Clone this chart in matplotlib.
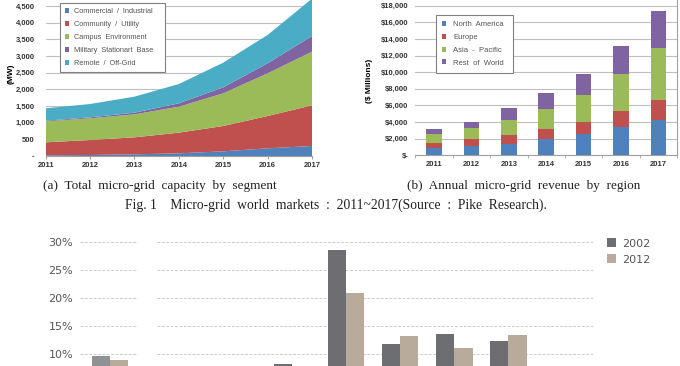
# Micro-grid markets figure (two top panels + cropped bottom bar chart)

import numpy as np
import matplotlib.pyplot as plt
from matplotlib.ticker import FuncFormatter

# ---- data: (a) capacity by segment, MW ----
years = [2011, 2012, 2013, 2014, 2015, 2016, 2017]
seg_labels = ["Commercial  /  Industrial", "Community  /  Utility", "Campus  Environment",
              "Military  Stationart  Base", "Remote  /  Off-Grid"]
commercial = [20, 30, 50, 80, 140, 230, 300]
community = [390, 450, 510, 620, 760, 970, 1220]
campus = [630, 650, 690, 780, 980, 1280, 1610]
military = [20, 30, 50, 100, 180, 300, 470]
remote = [370, 400, 480, 580, 740, 850, 1120]

# ---- data: (b) revenue by region, $ millions ----
region_labels = ["North  America", "Europe", "Asia  -  Pacific", "Rest  of  World"]
north_america = [880, 1120, 1400, 1920, 2600, 3450, 4250]
europe = [640, 800, 1050, 1290, 1450, 1840, 2410]
asia_pacific = [1050, 1370, 1800, 2360, 3210, 4530, 6290]
rest_of_world = [600, 720, 1480, 1890, 2560, 3290, 4410]

# ---- data: bottom chart, % (cropped in the picture) ----
share_2002_left = [9.6]
share_2012_left = [8.8]
share_2002 = [5.0, 6.0, 8.1, 28.5, 11.7, 13.6, 12.3]
share_2012 = [4.5, 5.5, 7.0, 20.9, 13.2, 11.0, 13.3]

seg_colors = ["#4f81bd", "#c0504d", "#9bbb59", "#8064a2", "#4bacc6"]
reg_colors = ["#4f81bd", "#c0504d", "#9bbb59", "#8064a2"]
c2002 = "#6d6e71"
c2012 = "#b9ab9b"

W, H = 680, 366
fig = plt.figure(figsize=(W / 100, H / 100), dpi=100)


def px_axes(x0, y_top, x1, y_bot):
    return fig.add_axes([x0 / W, 1 - y_bot / H, (x1 - x0) / W, (y_bot - y_top) / H])


tick_font = dict(family="Liberation Sans", weight="bold", size=5.5)

# ---------------- (a) stacked area ----------------
ax1 = px_axes(45.7, 0, 312, 156)
ax1.stackplot(years, commercial, community, campus, military, remote,
              colors=seg_colors, labels=seg_labels, linewidth=0)
ax1.set_xlim(2011, 2017)
ax1.set_ylim(0, 4680)
ax1.set_yticks(np.arange(0, 5000, 500))
ax1.set_xticks(years)
ax1.yaxis.set_major_formatter(FuncFormatter(lambda v, p: "-" if v == 0 else f"{v:,.0f}"))
ax1.yaxis.grid(True, color="#bfbfbf", linewidth=0.8)
ax1.set_axisbelow(True)
for s in ["top", "right", "left"]:
    ax1.spines[s].set_visible(False)
ax1.spines["bottom"].set_color("#a0a0a0")
ax1.spines["bottom"].set_linewidth(0.8)
ax1.tick_params(axis="y", length=0, pad=8)
ax1.tick_params(axis="x", length=2.5, color="#a0a0a0", pad=2)
for lab in ax1.get_xticklabels() + ax1.get_yticklabels():
    lab.set(**tick_font, color="#333333")
ax1.set_ylabel("(MW)", fontsize=6, fontweight="bold", family="Liberation Sans")
ax1.yaxis.set_label_coords(-0.115, 0.53)
leg1 = ax1.legend(loc="upper left", bbox_to_anchor=(0.0387, 0, 0.424, 1.003), mode="expand",
                  prop=dict(family="Liberation Sans", size=5.3), labelcolor="#555555",
                  frameon=True, fancybox=False, edgecolor="#808080", framealpha=1,
                  handlelength=0.6, handleheight=0.6, handletextpad=0.7,
                  labelspacing=0.8, borderpad=0.7)
leg1.get_frame().set_linewidth(0.8)

# ---------------- (b) stacked bars ----------------
ax2 = px_axes(415.3, 0, 677.1, 155.3)
x = np.arange(len(years))
bottom = np.zeros(len(years))
for vals, col, lab in zip([north_america, europe, asia_pacific, rest_of_world], reg_colors, region_labels):
    ax2.bar(x, vals, 0.42, bottom=bottom, color=col, label=lab, zorder=3)
    bottom += np.array(vals)
ax2.set_xlim(-0.5, len(years) - 0.5)
ax2.set_ylim(0, 18686)
ax2.set_yticks(np.arange(0, 19000, 2000))
ax2.set_xticks(x)
ax2.set_xticklabels(years)
ax2.set_xticks(np.arange(-0.5, len(years)), minor=True)
ax2.yaxis.set_major_formatter(FuncFormatter(lambda v, p: "$-" if v == 0 else f"${v:,.0f}"))
ax2.yaxis.grid(True, color="#bfbfbf", linewidth=0.8)
ax2.set_axisbelow(True)
for s in ["top", "left"]:
    ax2.spines[s].set_visible(False)
for s in ["bottom", "right"]:
    ax2.spines[s].set_color("#a0a0a0")
    ax2.spines[s].set_linewidth(0.8)
ax2.tick_params(axis="y", length=0, pad=5)
ax2.tick_params(axis="x", which="major", length=0, pad=4)
ax2.tick_params(axis="x", which="minor", length=2.5, color="#a0a0a0")
for lab in ax2.get_xticklabels() + ax2.get_yticklabels():
    lab.set(**tick_font, color="#333333")
ax2.set_ylabel("($ Millions)", fontsize=6, fontweight="bold", family="Liberation Sans")
ax2.yaxis.set_label_coords(-0.16, 0.48)
leg2 = ax2.legend(loc="upper left", bbox_to_anchor=(0.0626, 0, 0.326, 0.929), mode="expand",
                  prop=dict(family="Liberation Sans", size=5.5), labelcolor="#555555",
                  frameon=True, fancybox=False, edgecolor="#808080", framealpha=1,
                  handlelength=0.6, handleheight=0.6, handletextpad=0.9,
                  labelspacing=0.75, borderpad=0.8)
leg2.get_frame().set_linewidth(0.8)

# ---------------- captions ----------------
cap = dict(family="Liberation Serif", size=9.5, color="#222222", ha="center", va="center")
fig.text(160 / W, 1 - 186 / H, "(a)  Total  micro-grid  capacity  by  segment", **cap)
fig.text(524 / W, 1 - 186 / H, "(b)  Annual  micro-grid  revenue  by  region", **cap)
fig.text(336 / W, 1 - 205 / H, "Fig. 1    Micro-grid  world  markets  :  2011~2017(Source  :  Pike  Research).",
         **{**cap, "size": 9.8})

# ---------------- bottom chart (cut off at the figure edge) ----------------
grid_kw = dict(color="#cdcdcd", linewidth=0.7, linestyle=(0, (3, 1.5)))
axL = px_axes(80, 241.7, 138, 409.7)
axR = px_axes(157, 241.7, 593, 409.7)
bw = 0.34
axL.bar([-bw / 2], share_2002_left, bw, color="#8f9295", zorder=3)
axL.bar([bw / 2], share_2012_left, bw, color=c2012, zorder=3)
axL.set_xlim(-30 / 54, 28 / 54)
xr = np.arange(len(share_2002))
axR.bar(xr - bw / 2, share_2002, bw, color=c2002, label="2002", zorder=3)
axR.bar(xr + bw / 2, share_2012, bw, color=c2012, label="2012", zorder=3)
axR.set_xlim(-0.5, 7.57)
for a in (axL, axR):
    a.set_ylim(0, 30)
    a.set_yticks(np.arange(10, 31, 5))
    a.yaxis.grid(True, **grid_kw)
    a.set_axisbelow(True)
    for s in a.spines.values():
        s.set_visible(False)
    a.set_xticks([])
    a.tick_params(axis="y", length=0)
axR.set_yticklabels([])
axL.yaxis.set_major_formatter(FuncFormatter(lambda v, p: f"{v:.0f}%"))
axL.tick_params(axis="y", pad=5, labelsize=8, labelcolor="#555555")
axR.legend(loc="upper left", bbox_to_anchor=(1.01, 1.08), frameon=False,
           prop=dict(size=8), labelcolor="#555555",
           handlelength=0.8, handleheight=0.9, handletextpad=0.5, labelspacing=0.5)

fig.savefig("out.png", dpi=100)
